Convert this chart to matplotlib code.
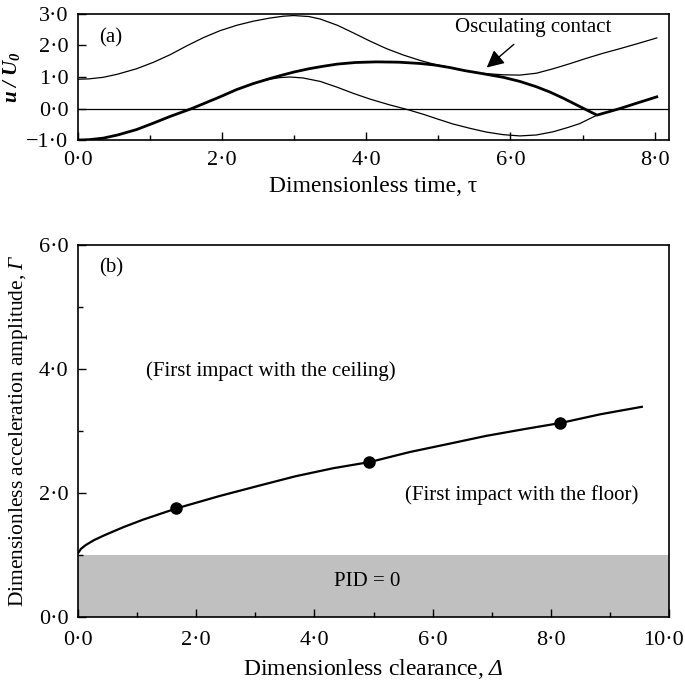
import numpy as np
import matplotlib
matplotlib.use("Agg")
import matplotlib.pyplot as plt
import matplotlib.transforms as mtransforms

plt.rcParams['font.family'] = ['Liberation Serif', 'DejaVu Serif']
plt.rcParams['mathtext.fontset'] = 'custom'
plt.rcParams['mathtext.rm'] = 'Liberation Serif'
plt.rcParams['mathtext.it'] = 'Liberation Serif:italic'
plt.rcParams['mathtext.bf'] = 'Liberation Serif:bold:italic'
# italic capital Greek (the 'it' slot keeps capital Greek upright)
plt.rcParams['mathtext.sf'] = 'Liberation Serif:italic'

# ---- panel (a): response in time ----
tau_ceiling = [0.0, 0.15, 0.35, 0.55, 0.81, 1.05, 1.28, 1.51, 1.74, 1.97, 2.2, 2.43,
               2.66, 2.85, 2.99, 3.2, 3.36, 3.6, 3.82, 4.05, 4.28, 4.51, 4.74, 4.95,
               5.16, 5.37, 5.58, 5.9, 6.13, 6.36, 6.59, 6.82, 7.05, 7.28, 7.52, 7.78, 8.03]
u_ceiling = [0.93, 0.94, 0.99, 1.09, 1.26, 1.47, 1.71, 1.99, 2.25, 2.47, 2.64, 2.77,
             2.87, 2.93, 2.95, 2.92, 2.84, 2.64, 2.4, 2.14, 1.9, 1.7, 1.53, 1.4,
             1.3, 1.2, 1.12, 1.07, 1.06, 1.12, 1.26, 1.42, 1.59, 1.75, 1.9, 2.07, 2.24]

tau_floor = [0.0, 0.15, 0.35, 0.55, 0.81, 1.05, 1.28, 1.58, 1.97, 2.2, 2.43, 2.66,
             2.8, 2.94, 3.12, 3.36, 3.59, 3.82, 4.05, 4.3, 4.58, 4.8, 4.97, 5.2,
             5.44, 5.67, 5.9, 6.13, 6.36, 6.59, 6.8, 6.96, 7.2, 7.52, 7.78, 8.03]
u_floor = [-1.0, -0.99, -0.94, -0.84, -0.67, -0.46, -0.25, 0.0, 0.37, 0.6, 0.79, 0.93,
           0.98, 1.0, 0.97, 0.86, 0.68, 0.48, 0.3, 0.13, -0.04, -0.19, -0.32, -0.49,
           -0.63, -0.75, -0.83, -0.87, -0.84, -0.74, -0.6, -0.48, -0.21, 0.0, 0.19, 0.37]

tau_mass = [0.0, 0.15, 0.35, 0.55, 0.81, 1.05, 1.28, 1.58, 1.97, 2.2, 2.43, 2.66,
            2.8, 3.0, 3.2, 3.4, 3.6, 3.85, 4.14, 4.45, 4.74, 4.95, 5.16, 5.37,
            5.58, 5.9, 6.13, 6.36, 6.55, 6.73, 6.99, 7.2, 7.52, 7.78, 8.03]
u_mass = [-1.0, -0.99, -0.94, -0.84, -0.67, -0.46, -0.25, 0.0, 0.37, 0.6, 0.79, 0.95,
          1.04, 1.16, 1.26, 1.34, 1.41, 1.46, 1.48, 1.47, 1.43, 1.38, 1.3, 1.2,
          1.12, 0.99, 0.86, 0.69, 0.52, 0.33, 0.03, -0.21, 0.0, 0.19, 0.37]

a_xticks = [0, 2, 4, 6, 8]
a_xlabels = ["0·0", "2·0", "4·0", "6·0", "8·0"]
a_yticks = [-1, 0, 1, 2, 3]
a_ylabels = ["\u22121·0", "0·0", "1·0", "2·0", "3·0"]

# ---- panel (b): boundary curve ----
delta = [0.0, 0.05, 0.13, 0.27, 0.45, 0.77, 1.1, 1.66, 2.39, 3.03, 3.68, 4.32, 4.94,
         5.61, 6.26, 6.9, 7.55, 8.17, 8.84, 9.54]
gamma = [1.03, 1.1, 1.16, 1.24, 1.32, 1.45, 1.57, 1.75, 1.95, 2.11, 2.27, 2.4, 2.5,
         2.66, 2.79, 2.92, 3.03, 3.13, 3.27, 3.39]
delta_pts = [1.66, 4.92, 8.15]
gamma_pts = [1.75, 2.5, 3.13]
pid_limit = 1.0

b_xticks = [0, 2, 4, 6, 8, 10]
b_xlabels = ["0·0", "2·0", "4·0", "6·0", "8·0", "10·0"]
b_yticks = [0, 2, 4, 6]
b_ylabels = ["0·0", "2·0", "4·0", "6·0"]

fs = 15
fs_tick = 16
fs_xlab = 17

fig = plt.figure(figsize=(6.85, 6.82), dpi=100)
ax1 = fig.add_axes([0.1139, 0.7947, 0.8628, 0.1848])
ax2 = fig.add_axes([0.1139, 0.0953, 0.8628, 0.5455])

# panel (a)
ax1.axhline(0, color='black', lw=0.9)
ax1.plot(tau_ceiling, u_ceiling, color='black', lw=0.9)
ax1.plot(tau_floor, u_floor, color='black', lw=0.9)
ax1.plot(tau_mass, u_mass, color='black', lw=2.0)
ax1.set_xlim(0, 8.2)
ax1.set_ylim(-1, 3)
ax1.set_xticks(a_xticks, a_xlabels)
ax1.set_xticks([1, 3, 5, 7], minor=True)
ax1.set_yticks(a_yticks, a_ylabels)
ax1.set_xlabel("Dimensionless time, τ", fontsize=fs_xlab, labelpad=4)
ax1.set_ylabel(r"$\mathbf{u\ /\ U_0}$", fontsize=fs, labelpad=3)
ax1.text(0.46, 2.25, "(a)", fontsize=fs, ha='center', va='center')
ax1.annotate("Osculating contact", xy=(5.67, 1.3), xytext=(6.32, 2.57),
             fontsize=fs, ha='center', va='center',
             arrowprops=dict(arrowstyle='-|>', color='black', lw=1.0,
                             mutation_scale=26, shrinkA=5, shrinkB=0))

# panel (b)
ax2.axhspan(0, pid_limit, color='#c0c0c0', lw=0)
ax2.plot(delta, gamma, color='black', lw=1.6)
ax2.plot(delta_pts, gamma_pts, 'o', color='black', markersize=8)
ax2.set_xlim(0, 10)
ax2.set_ylim(0, 6)
ax2.set_xticks(b_xticks, b_xlabels)
ax2.set_xticks([1, 3, 5, 7, 9], minor=True)
ax2.set_yticks(b_yticks, b_ylabels)
ax2.set_yticks([1, 3, 5], minor=True)
ax2.set_xlabel(r"Dimensionless clearance, $\mathsf{Δ}$", fontsize=fs_xlab, labelpad=5)
ax2.set_ylabel(r"Dimensionless acceleration amplitude, $\mathsf{Γ}$", fontsize=15.5, labelpad=6)
ax2.text(0.56, 5.63, "(b)", fontsize=fs, ha='center', va='center')
ax2.text(3.26, 3.96, "(First impact with the ceiling)", fontsize=fs, ha='center', va='center')
ax2.text(7.5, 1.97, "(First impact with the floor)", fontsize=fs, ha='center', va='center')
ax2.text(4.89, 0.57, "PID = 0", fontsize=fs, ha='center', va='center')

for ax in (ax1, ax2):
    for s in ax.spines.values():
        s.set_linewidth(1.2)
    ax.tick_params(which='both', direction='in', top=False, right=False,
                   labelsize=fs_tick, width=1.0)
    ax.tick_params(which='major', length=6, pad=7)
    ax.tick_params(which='minor', length=3.5)
ax1.tick_params(axis='x', which='major', pad=8)
ax2.tick_params(axis='x', which='major', pad=10)

# keep the last clearance label inside the figure
last = ax2.get_xticklabels()[-1]
last.set_transform(last.get_transform() +
                   mtransforms.ScaledTranslation(-6 / 100, 0, fig.dpi_scale_trans))

fig.savefig("out.png", dpi=100)
